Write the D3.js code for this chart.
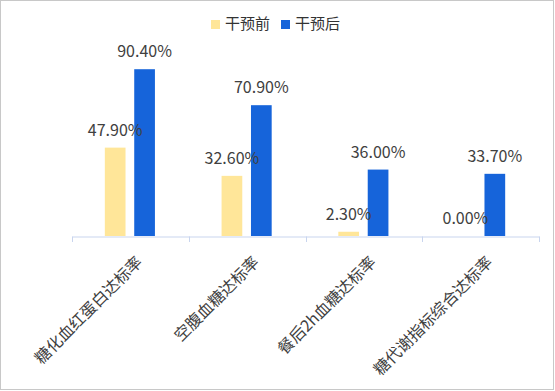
<!DOCTYPE html>
<html><head><meta charset="utf-8">
<script src="https://cdn.jsdelivr.net/npm/d3@7"></script>
<style>body{margin:0;background:#fff}svg{display:block}</style>
</head><body>
<script>
const categories = ["糖化血红蛋白达标率","空腹血糖达标率","餐后2h血糖达标率","糖代谢指标综合达标率"];
const seriesNames = ["干预前","干预后"];
const before = [47.9, 32.6, 2.3, 0.0];
const after = [90.4, 70.9, 36.0, 33.7];
const colors = ["#FFE699","#1664DA"];

const W=555,H=391;
const svg=d3.select("body").append("svg").attr("width",W).attr("height",H);
const font='"Noto Sans CJK SC","Microsoft YaHei",sans-serif';
svg.append("rect").attr("x",0.5).attr("y",0.5).attr("width",553).attr("height",389)
  .attr("fill","#fff").attr("stroke","#c8c8c8");

const x=d3.scaleBand().domain(categories).range([72,539]);
const x1=d3.scaleBand().domain(seriesNames).range([0,x.bandwidth()]).paddingInner(0.33).paddingOuter(1.15);
const y=d3.scaleLinear().domain([0,100]).range([236,51.5]);

const data=categories.map((c,i)=>({c,vals:[before[i],after[i]]}));
const g=svg.append("g");
const grp=g.selectAll("g.grp").data(data).join("g").attr("transform",d=>`translate(${x(d.c)},0)`);
grp.selectAll("rect").data(d=>d.vals.map((v,j)=>({v,s:seriesNames[j],j}))).join("rect")
  .attr("x",d=>x1(d.s)-1).attr("width",x1.bandwidth()+1)
  .attr("y",d=>y(d.v)).attr("height",d=>y(0)-y(d.v)).attr("fill",d=>colors[d.j]);
grp.selectAll("text").data(d=>d.vals.map((v,j)=>({v,s:seriesNames[j],j}))).join("text")
  .attr("x",d=>x1(d.s)+x1.bandwidth()/2-0.5).attr("y",d=>y(d.v)-12)
  .attr("text-anchor","middle").attr("font-family",font).attr("font-size",16)
  .attr("fill","#404040").text(d=>d.v.toFixed(2)+"%");

// axis
const ax=svg.append("g").attr("transform","translate(0,236.5)")
  .call(d3.axisBottom(x).tickSize(0).tickFormat(""));
ax.select(".domain").attr("stroke","#c9d5ee");
const edges=[...categories.map(c=>x(c)), x.range()[1]];
svg.selectAll("line.tk").data(edges).join("line").attr("class","tk")
  .attr("x1",d=>Math.round(d)+0.5).attr("x2",d=>Math.round(d)+0.5)
  .attr("y1",236.5).attr("y2",242).attr("stroke","#c9d5ee");
svg.selectAll("text.xl").data(categories).join("text").attr("class","xl")
  .attr("transform",d=>`translate(${x(d)+x.bandwidth()/2+10},260) rotate(-45)`)
  .attr("text-anchor","end").attr("dominant-baseline","middle")
  .attr("font-family",font).attr("font-size",16).attr("fill","#404040").text(d=>d);

// legend
const lg=svg.append("g");
const lx=[211,281];
seriesNames.forEach((s,i)=>{
  lg.append("rect").attr("x",lx[i]).attr("y",20).attr("width",9).attr("height",9).attr("fill",colors[i]);
  lg.append("text").attr("x",lx[i]+14).attr("y",24.5).attr("dominant-baseline","middle")
    .attr("font-family",font).attr("font-size",15).attr("fill","#333").text(s);
});
</script>
</body></html>
